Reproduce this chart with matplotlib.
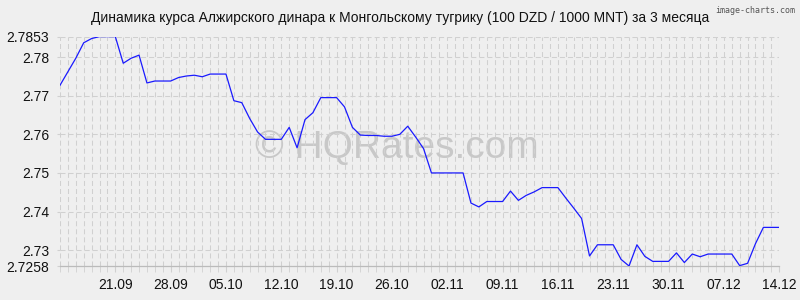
import matplotlib
matplotlib.use("Agg")
import matplotlib.pyplot as plt
import matplotlib.dates as mdates
import pandas as pd

# Курс 100 DZD / 1000 MNT, ежедневные значения с 14.09 по 14.12
rates = [
    2.7727, 2.7762, 2.7797, 2.7837, 2.7848, 2.7853, 2.7853, 2.7853, 2.7784, 2.7797,
    2.7805, 2.7733, 2.7738, 2.7738, 2.7738, 2.7747, 2.7751, 2.7753, 2.7749, 2.7756,
    2.7756, 2.7756, 2.7687, 2.7682, 2.7641, 2.7606, 2.7587, 2.7587, 2.7587, 2.7618,
    2.7565, 2.7638, 2.7656, 2.7695, 2.7695, 2.7695, 2.7671, 2.7618, 2.7598, 2.7597,
    2.7597, 2.7595, 2.7595, 2.7600, 2.7621, 2.7593, 2.7563, 2.7500, 2.7500, 2.7500,
    2.7500, 2.7500, 2.7422, 2.7412, 2.7426, 2.7426, 2.7426, 2.7453, 2.7429, 2.7442,
    2.7451, 2.7462, 2.7462, 2.7462, 2.7435, 2.7409, 2.7382, 2.7285, 2.7314, 2.7314,
    2.7314, 2.7276, 2.7259, 2.7314, 2.7284, 2.7271, 2.7271, 2.7271, 2.7293, 2.7268,
    2.7290, 2.7283, 2.7290, 2.7290, 2.7290, 2.7290, 2.7260, 2.7266, 2.7317, 2.7359,
    2.7359, 2.7359,
]
dates = pd.date_range("2024-09-14", periods=len(rates), freq="D")

y_min, y_max = 2.7258, 2.7853
y_ticks = [2.7258, 2.73, 2.74, 2.75, 2.76, 2.77, 2.78, 2.7853]
y_labels = ["2.7258", "2.73", "2.74", "2.75", "2.76", "2.77", "2.78", "2.7853"]

title = "Динамика курса Алжирского динара к Монгольскому тугрику (100 DZD / 1000 MNT) за 3 месяца"

plt.rcParams["font.family"] = ["Liberation Sans", "DejaVu Sans"]
plt.rcParams["lines.scale_dashes"] = False

bg = "#efefef"
grid_col = "#d0d0d0"

fig = plt.figure(figsize=(8, 3), dpi=100, facecolor=bg)
ax = fig.add_axes([0.075, 0.112, 0.899, 0.766], facecolor=bg)

# Водяной знак под линией
ax.text(0.468, 0.515, "© HQRates.com", transform=ax.transAxes, fontsize=28,
        color="#c8c8c8", ha="center", va="center", zorder=1)

ax.plot(dates, rates, color="#1a1aff", linewidth=0.9, zorder=3)

ax.set_xlim(dates[0], dates[-1])
ax.set_ylim(y_min, y_max)

# Подписи по оси X раз в неделю, сетка каждый день
ax.xaxis.set_major_locator(mdates.DayLocator(bymonthday=None, interval=7))
week_ticks = pd.date_range(dates[7], dates[-1], freq="7D")
ax.set_xticks(week_ticks)
ax.xaxis.set_major_formatter(mdates.DateFormatter("%d.%m"))
ax.xaxis.set_minor_locator(mdates.DayLocator())

ax.set_yticks(y_ticks)
ax.set_yticklabels(y_labels)

ax.grid(which="both", axis="x", color=grid_col, linewidth=0.75,
        dashes=(3.6, 2.2), zorder=0)
ax.grid(which="major", axis="y", color=grid_col, linewidth=0.75,
        dashes=(3.6, 2.2), zorder=0)

ax.tick_params(axis="x", which="both", length=4, color=grid_col, pad=4,
               labelsize=10, labelcolor="#111111")
ax.tick_params(axis="y", length=2, color=grid_col, pad=6,
               labelsize=10, labelcolor="#111111")

for side in ["top", "right", "left"]:
    ax.spines[side].set_visible(False)
ax.spines["bottom"].set_color("#bbbbbb")
ax.spines["bottom"].set_linewidth(0.9)

fig.text(0.5, 0.94, title, ha="center", va="center", fontsize=10, color="#111111")
fig.text(0.994, 0.965, "image-charts.com", ha="right", va="center", fontsize=6,
         family="DejaVu Sans Mono", color="#555555")

fig.savefig("out.png", dpi=100, facecolor=bg)
